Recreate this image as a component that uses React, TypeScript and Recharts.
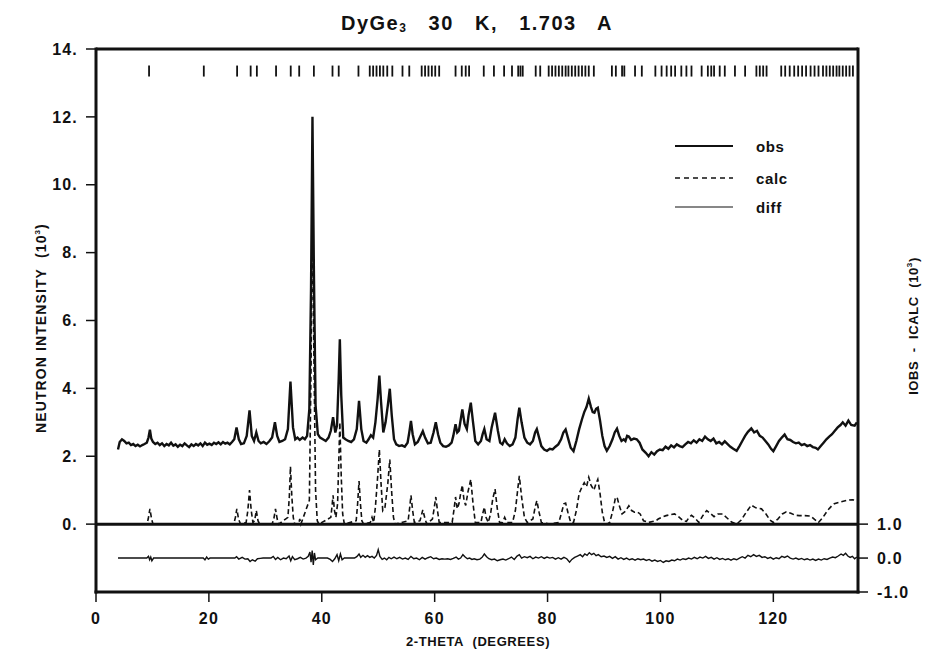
import React from 'react';
import { ComposedChart, Line, Scatter, XAxis, YAxis, ReferenceLine } from 'recharts';

// 2-theta (deg) vs intensity (10^3 counts)
const observed: [number, number][] = [
  [3.9, 2.2], [4.2, 2.42], [4.6, 2.5], [5.0, 2.45], [5.4, 2.38], [5.8, 2.4], [6.2, 2.33], [6.6, 2.36], [7.0, 2.3], [7.4, 2.34],
  [7.8, 2.29], [8.2, 2.33], [8.6, 2.36], [9.0, 2.4], [9.3, 2.55], [9.55, 2.78], [9.8, 2.52], [10.1, 2.42], [10.5, 2.36], [10.9, 2.4],
  [11.3, 2.33], [11.7, 2.38], [12.1, 2.3], [12.5, 2.36], [12.9, 2.32], [13.3, 2.4], [13.7, 2.31], [14.1, 2.35], [14.5, 2.28], [14.9, 2.34],
  [15.3, 2.3], [15.7, 2.38], [16.1, 2.32], [16.5, 2.27], [16.9, 2.35], [17.3, 2.3], [17.7, 2.36], [18.1, 2.32], [18.5, 2.38], [18.9, 2.3],
  [19.3, 2.4], [19.7, 2.34], [20.1, 2.37], [20.5, 2.33], [20.9, 2.4], [21.3, 2.36], [21.7, 2.41], [22.1, 2.35], [22.5, 2.42], [22.9, 2.37],
  [23.3, 2.4], [23.7, 2.35], [24.1, 2.42], [24.5, 2.5], [24.9, 2.85], [25.3, 2.5], [25.7, 2.36], [26.2, 2.38], [26.7, 2.6], [27.2, 3.35],
  [27.6, 2.6], [28.0, 2.45], [28.4, 2.7], [28.8, 2.45], [29.2, 2.38], [29.7, 2.42], [30.2, 2.36], [30.7, 2.44], [31.2, 2.55], [31.7, 3.0],
  [32.1, 2.6], [32.5, 2.42], [33.0, 2.45], [33.5, 2.5], [34.0, 2.8], [34.45, 4.2], [34.9, 2.85], [35.3, 2.5], [35.7, 2.55], [36.1, 2.48],
  [36.6, 2.55], [37.0, 2.5], [37.4, 2.6], [37.8, 3.4], [38.1, 7.0], [38.35, 12.0], [38.6, 7.5], [38.9, 3.5], [39.3, 2.65], [39.7, 2.55],
  [40.2, 2.5], [40.7, 2.45], [41.2, 2.55], [41.6, 2.75], [42.0, 3.15], [42.4, 2.7], [42.7, 2.9], [43.0, 4.3], [43.2, 5.45], [43.45, 3.8],
  [43.8, 2.55], [44.2, 2.5], [44.7, 2.45], [45.2, 2.42], [45.7, 2.5], [46.2, 2.8], [46.6, 3.63], [47.0, 2.8], [47.4, 2.45], [47.9, 2.4],
  [48.3, 2.5], [48.7, 2.62], [49.1, 2.55], [49.5, 3.0], [49.9, 3.7], [50.2, 4.38], [50.5, 3.6], [50.9, 2.7], [51.3, 3.0], [51.7, 3.5],
  [52.05, 3.99], [52.4, 3.2], [52.8, 2.5], [53.2, 2.35], [53.7, 2.3], [54.2, 2.32], [54.7, 2.28], [55.2, 2.4], [55.5, 2.7], [55.8, 3.04],
  [56.1, 2.65], [56.5, 2.35], [57.0, 2.42], [57.5, 2.6], [57.9, 2.74], [58.3, 2.55], [58.8, 2.38], [59.3, 2.4], [59.8, 2.7], [60.2, 3.0],
  [60.6, 2.65], [61.0, 2.4], [61.5, 2.3], [62.0, 2.28], [62.5, 2.32], [63.0, 2.4], [63.3, 2.6], [63.7, 2.94], [64.0, 2.7], [64.3, 2.75],
  [64.9, 3.38], [65.3, 2.95], [65.7, 2.8], [66.0, 3.2], [66.4, 3.58], [66.8, 3.0], [67.2, 2.45], [67.7, 2.35], [68.2, 2.45], [68.5, 2.65],
  [68.8, 2.8], [69.2, 2.5], [69.7, 2.45], [70.1, 2.85], [70.7, 3.28], [71.2, 2.75], [71.6, 2.4], [72.0, 2.35], [72.4, 2.5], [72.8, 2.38],
  [73.3, 2.3], [73.8, 2.35], [74.3, 2.55], [74.7, 3.1], [75.0, 3.43], [75.4, 3.0], [75.9, 2.55], [76.4, 2.4], [76.9, 2.35], [77.4, 2.45],
  [77.8, 2.7], [78.1, 2.8], [78.5, 2.55], [78.9, 2.3], [79.4, 2.2], [79.9, 2.16], [80.4, 2.22], [80.9, 2.2], [81.4, 2.28], [81.9, 2.35],
  [82.4, 2.5], [82.8, 2.7], [83.2, 2.79], [83.6, 2.55], [84.1, 2.25], [84.6, 2.15], [85.1, 2.45], [85.6, 2.8], [86.1, 3.09], [86.5, 3.3],
  [86.9, 3.45], [87.3, 3.7], [87.7, 3.45], [88.0, 3.3], [88.3, 3.28], [88.6, 3.4], [88.9, 3.43], [89.3, 3.05], [89.7, 2.6], [90.1, 2.3],
  [90.5, 2.16], [91.0, 2.3], [91.5, 2.5], [91.9, 2.7], [92.3, 2.81], [92.7, 2.6], [93.1, 2.45], [93.5, 2.5], [93.8, 2.45], [94.1, 2.6],
  [94.4, 2.58], [94.8, 2.48], [95.3, 2.52], [95.8, 2.5], [96.3, 2.4], [96.8, 2.2], [97.4, 2.1], [97.9, 2.0], [98.4, 2.12], [98.9, 2.05],
  [99.4, 2.15], [99.9, 2.2], [100.4, 2.18], [100.9, 2.28], [101.4, 2.22], [101.9, 2.32], [102.4, 2.26], [102.9, 2.35], [103.4, 2.3], [103.9, 2.27],
  [104.4, 2.35], [104.9, 2.42], [105.4, 2.38], [105.9, 2.47], [106.4, 2.4], [106.9, 2.5], [107.4, 2.45], [107.9, 2.58], [108.4, 2.5], [108.9, 2.45],
  [109.4, 2.52], [109.9, 2.38], [110.4, 2.42], [110.9, 2.35], [111.4, 2.44], [111.9, 2.36], [112.4, 2.28], [112.9, 2.22], [113.5, 2.16], [114.0, 2.3],
  [114.5, 2.45], [115.0, 2.6], [115.5, 2.72], [116.1, 2.82], [116.6, 2.7], [117.1, 2.75], [117.6, 2.6], [118.1, 2.55], [118.6, 2.45], [119.1, 2.35],
  [119.6, 2.22], [120.0, 2.15], [120.5, 2.3], [121.0, 2.45], [121.5, 2.55], [122.0, 2.64], [122.5, 2.5], [123.0, 2.48], [123.5, 2.42], [124.0, 2.38],
  [124.5, 2.4], [125.0, 2.33], [125.5, 2.36], [126.0, 2.3], [126.5, 2.33], [127.0, 2.27], [127.5, 2.25], [127.9, 2.2], [128.4, 2.3], [128.9, 2.4],
  [129.4, 2.5], [129.9, 2.58], [130.4, 2.65], [130.9, 2.75], [131.4, 2.85], [131.9, 2.92], [132.3, 3.0], [132.8, 2.9], [133.3, 3.05], [133.8, 2.92],
  [134.4, 2.9], [134.8, 3.0],
];

const calculated: [number, number][] = [
  [3.9, 0], [9.0, 0], [9.25, 0.15], [9.55, 0.45], [9.85, 0.15], [10.1, 0], [24.4, 0], [24.7, 0.2], [24.95, 0.45], [25.25, 0.15],
  [25.6, 0], [26.6, 0.05], [26.9, 0.4], [27.2, 1.0], [27.5, 0.4], [27.8, 0.05], [28.1, 0.1], [28.4, 0.4], [28.7, 0.1], [29.0, 0],
  [31.2, 0], [31.5, 0.15], [31.8, 0.45], [32.1, 0.15], [32.4, 0], [34.0, 0.2], [34.25, 0.8], [34.45, 1.7], [34.7, 0.8], [34.95, 0.2],
  [35.2, 0], [35.9, 0], [36.1, 0.15], [36.3, 0], [37.8, 0.7], [38.1, 4.6], [38.35, 9.6], [38.6, 5.0], [38.9, 1.0], [39.2, 0.1],
  [39.5, 0], [41.6, 0.2], [41.8, 0.5], [42.0, 0.85], [42.25, 0.4], [42.5, 0.2], [42.8, 0.6], [43.0, 1.8], [43.2, 3.0], [43.45, 1.4],
  [43.7, 0.3], [44.0, 0], [46.1, 0.1], [46.35, 0.6], [46.6, 1.27], [46.85, 0.6], [47.1, 0.1], [47.4, 0], [48.6, 0.05], [48.9, 0.2],
  [49.2, 0.05], [49.5, 0.5], [49.9, 1.4], [50.2, 2.2], [50.5, 1.2], [50.8, 0.4], [51.2, 0.5], [51.7, 1.2], [52.05, 1.9], [52.4, 0.9],
  [52.7, 0.2], [53.0, 0], [55.3, 0.1], [55.55, 0.45], [55.8, 0.85], [56.1, 0.4], [56.4, 0.05], [57.4, 0.1], [57.9, 0.42], [58.3, 0.15],
  [58.6, 0], [59.6, 0.15], [59.9, 0.45], [60.2, 0.8], [60.5, 0.4], [60.8, 0.05], [63.1, 0.05], [63.4, 0.4], [63.7, 0.8], [64.0, 0.45],
  [64.3, 0.6], [64.6, 0.9], [64.9, 1.15], [65.2, 0.7], [65.5, 0.55], [65.9, 0.95], [66.4, 1.32], [66.8, 0.6], [67.2, 0.05], [68.2, 0.05],
  [68.5, 0.3], [68.8, 0.5], [69.1, 0.2], [69.5, 0.05], [69.9, 0.3], [70.3, 0.75], [70.7, 1.03], [71.1, 0.45], [71.5, 0.05], [72.0, 0.05],
  [72.4, 0.2], [72.8, 0.05], [73.8, 0.05], [74.3, 0.4], [74.7, 1.0], [75.0, 1.42], [75.4, 0.8], [75.9, 0.2], [76.4, 0.05], [77.4, 0.15],
  [77.8, 0.5], [78.1, 0.69], [78.5, 0.35], [78.9, 0.05], [80.4, 0], [82.0, 0.05], [82.5, 0.35], [82.9, 0.6], [83.2, 0.62], [83.6, 0.35],
  [84.1, 0.05], [84.6, 0.05], [85.1, 0.4], [85.6, 0.9], [86.1, 1.1], [86.5, 1.22], [86.9, 1.1], [87.3, 1.38], [87.7, 1.15], [88.2, 1.0],
  [88.6, 1.2], [88.9, 1.32], [89.3, 0.9], [89.7, 0.35], [90.1, 0.05], [90.5, 0], [91.0, 0.05], [91.5, 0.35], [92.0, 0.75], [92.3, 0.8],
  [92.7, 0.55], [93.2, 0.3], [93.8, 0.38], [94.4, 0.54], [94.9, 0.4], [95.4, 0.35], [95.9, 0.36], [96.4, 0.3], [97.0, 0.1], [97.9, 0.05],
  [98.6, 0.08], [99.2, 0.1], [99.6, 0.15], [100.2, 0.2], [101.0, 0.25], [101.8, 0.28], [102.5, 0.3], [103.2, 0.22], [104.0, 0.1], [104.6, 0.08],
  [105.0, 0.18], [105.5, 0.26], [106.1, 0.18], [106.8, 0.05], [107.5, 0.25], [108.2, 0.4], [108.8, 0.32], [109.5, 0.22], [110.2, 0.3], [111.0, 0.3],
  [111.8, 0.18], [112.6, 0.06], [113.5, 0.0], [114.3, 0.12], [115.2, 0.35], [116.1, 0.56], [116.9, 0.48], [117.9, 0.45], [118.7, 0.3], [119.4, 0.12],
  [120.0, 0.05], [120.8, 0.15], [121.6, 0.3], [122.3, 0.36], [123.1, 0.32], [123.9, 0.26], [124.6, 0.25], [125.6, 0.25], [126.6, 0.24], [127.3, 0.14],
  [128.0, 0.05], [128.8, 0.2], [129.6, 0.4], [130.4, 0.55], [130.8, 0.6], [131.8, 0.65], [133.0, 0.7], [134.0, 0.72], [134.8, 0.7],
];

const difference: [number, number][] = [
  [3.9, 0], [9.0, 0], [9.3, 0.05], [9.5, -0.05], [9.7, 0.03], [9.9, -0.08], [10.2, 0], [19.0, 0], [19.3, -0.05], [19.6, 0.03],
  [19.9, -0.03], [20.2, 0], [24.6, 0], [24.9, 0.04], [25.3, -0.03], [25.9, 0.02], [26.4, -0.03], [26.9, -0.02], [27.3, -0.1], [27.7, -0.05],
  [28.2, -0.09], [28.6, -0.02], [29.1, -0.01], [29.6, 0], [31.0, 0], [31.4, 0.05], [31.8, -0.04], [32.2, 0.02], [32.7, -0.05], [33.2, 0.0],
  [33.7, -0.02], [34.2, 0.06], [34.5, -0.08], [34.8, 0.04], [35.2, -0.05], [35.7, -0.02], [36.2, 0.02], [36.7, -0.03], [37.2, 0.0], [37.6, 0.05],
  [37.9, 0.18], [38.1, -0.12], [38.3, 0.22], [38.5, -0.2], [38.7, 0.15], [38.9, -0.05], [39.3, 0.0], [41.0, 0], [41.5, -0.04], [41.9, -0.1],
  [42.3, -0.02], [42.7, 0.1], [43.0, -0.08], [43.3, 0.12], [43.6, -0.05], [44.0, 0.0], [45.8, 0], [46.2, 0.04], [46.6, 0.12], [46.9, 0.02],
  [47.3, 0.08], [47.7, 0.02], [48.1, 0.07], [48.5, 0.02], [48.9, 0.05], [49.3, 0.0], [49.7, 0.08], [50.0, 0.25], [50.3, 0.05], [50.7, -0.04],
  [51.1, 0.0], [51.5, -0.05], [51.9, 0.02], [52.3, -0.02], [52.8, 0.03], [53.3, -0.02], [53.8, 0.02], [54.3, -0.03], [54.8, 0.0], [55.3, -0.04],
  [55.8, 0.05], [56.3, -0.02], [56.8, 0.0], [57.3, -0.05], [57.8, 0.02], [58.3, -0.03], [58.8, 0.01], [59.3, 0.04], [59.8, -0.02], [60.3, 0.0],
  [60.8, -0.04], [61.3, -0.02], [61.8, -0.03], [62.3, -0.02], [62.8, -0.04], [63.3, -0.01], [63.8, 0.03], [64.2, -0.03], [64.6, 0.0], [65.0, 0.1],
  [65.4, 0.03], [65.8, -0.02], [66.2, 0.0], [66.6, -0.04], [67.0, -0.02], [67.5, -0.05], [68.0, -0.03], [68.4, 0.02], [68.8, 0.12], [69.2, 0.04],
  [69.6, -0.02], [70.1, -0.05], [70.6, -0.03], [71.1, -0.08], [71.6, -0.05], [72.1, -0.03], [72.6, -0.06], [73.1, -0.02], [73.6, 0.03], [74.1, -0.04],
  [74.6, 0.06], [75.0, 0.1], [75.4, 0.0], [75.9, 0.04], [76.4, 0.01], [76.9, 0.05], [77.4, -0.02], [77.9, 0.03], [78.4, 0.0], [78.9, 0.04],
  [79.4, -0.01], [79.9, 0.03], [80.4, 0.0], [80.9, 0.02], [81.4, -0.03], [81.9, 0.01], [82.4, -0.03], [82.9, 0.02], [83.4, -0.02], [83.9, -0.12],
  [84.3, -0.04], [84.8, 0.02], [85.3, 0.06], [85.8, 0.1], [86.2, 0.04], [86.6, 0.12], [87.0, 0.08], [87.4, 0.16], [87.8, 0.1], [88.2, 0.14],
  [88.6, 0.07], [89.0, 0.1], [89.5, 0.04], [90.0, 0.06], [90.5, 0.02], [91.0, 0.05], [91.5, -0.01], [92.0, 0.04], [92.5, -0.03], [93.0, 0.01],
  [93.5, -0.04], [94.0, 0.0], [94.5, -0.05], [95.0, -0.02], [95.5, -0.06], [96.0, -0.02], [96.5, -0.05], [97.0, -0.03], [97.5, -0.07], [98.0, -0.04],
  [98.5, -0.09], [99.0, -0.06], [99.5, -0.1], [100.0, -0.07], [100.5, -0.13], [101.0, -0.08], [101.5, -0.1], [102.0, -0.06], [102.5, -0.08], [103.0, -0.03],
  [103.5, -0.06], [104.0, -0.02], [104.5, -0.04], [105.0, 0.0], [105.5, -0.03], [106.0, 0.02], [106.5, -0.02], [107.0, 0.03], [107.5, 0.0], [108.0, 0.05],
  [108.5, -0.01], [109.0, 0.02], [109.5, -0.03], [110.0, 0.01], [110.5, -0.04], [111.0, -0.01], [111.5, -0.05], [112.0, -0.02], [112.5, -0.06], [113.0, -0.02],
  [113.5, -0.05], [114.0, 0.0], [114.5, 0.04], [115.0, 0.0], [115.5, 0.08], [116.0, 0.04], [116.5, 0.1], [117.0, 0.05], [117.5, 0.08], [118.0, 0.02],
  [118.5, 0.04], [119.0, -0.01], [119.5, 0.02], [120.0, -0.03], [120.5, 0.01], [121.0, -0.02], [121.5, 0.05], [122.0, 0.02], [122.5, 0.06], [123.0, 0.0],
  [123.5, -0.03], [124.0, 0.0], [124.5, -0.04], [125.0, -0.01], [125.5, -0.05], [126.0, -0.02], [126.5, -0.06], [127.0, -0.03], [127.5, -0.07], [128.0, -0.03],
  [128.5, -0.06], [129.0, -0.02], [129.5, -0.04], [130.0, 0.0], [130.5, 0.03], [131.0, 0.01], [131.5, 0.06], [132.0, 0.12], [132.4, 0.08], [132.8, 0.14],
  [133.2, 0.06], [133.6, 0.02], [134.0, 0.05], [134.4, -0.02], [134.8, 0.03],
];

// Bragg reflection positions (2-theta)
const reflections = [
  9.4, 19.1, 25.0, 27.4, 28.5, 31.9, 34.5, 36.0, 38.6, 41.9, 43.0, 46.5, 48.5, 49.1, 49.7, 50.3, 50.9, 51.6, 52.5, 54.3,
  55.5, 57.7, 58.3, 58.9, 59.5, 60.1, 60.8, 63.7, 64.8, 65.5, 66.1, 68.7, 70.5, 72.3, 73.7, 74.8, 75.2, 75.6, 77.9, 78.7,
  80.2, 80.8, 81.4, 82.0, 82.6, 83.2, 83.7, 84.3, 84.9, 85.5, 86.1, 86.7, 87.3, 88.2, 91.4, 92.1, 93.2, 93.6, 95.5, 96.7,
  99.1, 100.2, 101.1, 101.9, 102.6, 103.7, 104.6, 105.5, 107.3, 108.4, 109.0, 109.5, 110.5, 111.4, 113.2, 115.0, 117.0, 117.6, 118.2, 118.8,
  121.4, 122.1, 122.9, 123.7, 124.4, 125.1, 125.8, 126.6, 127.3, 128.0, 128.8, 129.4, 130.0, 130.6, 131.2, 131.7, 132.3, 132.9, 133.5, 134.1,
];
const reflectionRow = 13.35;

const xTicks = [0, 20, 40, 60, 80, 100, 120];
const intensityTicks = [0, 2, 4, 6, 8, 10, 12, 14];
const diffTicks = [-1, 0, 1];

const ink = '#111';
const font = "'Liberation Sans', Arial, Helvetica, sans-serif";
const tickStyle = { fill: ink, fontSize: 16, fontWeight: 700, fontFamily: font, letterSpacing: 1.2 };
const axisLine = { stroke: ink, strokeWidth: 3, strokeLinecap: 'square' as const };
const tickLine = { stroke: ink, strokeWidth: 1.5 };

const rows = (pts: [number, number][]) => pts.map(([t, v]) => ({ t, v }));
const reflectionRows = reflections.map((t) => ({ t, y: reflectionRow }));

const ReflectionMark = (props: any) => (
  <line x1={props.cx} x2={props.cx} y1={props.cy - 5.5} y2={props.cy + 5.5} stroke={ink} strokeWidth={1.8} />
);

const labelBase: React.CSSProperties = {
  position: 'absolute', fontFamily: font, fontWeight: 700, color: ink, whiteSpace: 'nowrap', letterSpacing: 0.6,
};

export default function App() {
  return (
    <div style={{ position: 'fixed', left: 0, top: 0, width: 951, height: 654, background: '#fff' }}>
      <ComposedChart width={951} height={654} margin={{ top: 49, right: 0, bottom: 0, left: 0 }}>
        <XAxis type="number" dataKey="t" domain={[0, 135]} ticks={xTicks} allowDataOverflow height={62}
          axisLine={axisLine} tickLine={tickLine} tickSize={10} tickMargin={11} tick={tickStyle} />
        <YAxis yAxisId="left" type="number" domain={[-2, 14]} ticks={intensityTicks} allowDataOverflow width={96}
          axisLine={axisLine} tickLine={tickLine} tickSize={10} tickMargin={8} tick={tickStyle}
          tickFormatter={(v: number) => `${v}.`} />
        <YAxis yAxisId="right" orientation="right" type="number" domain={[-1, 15]} ticks={diffTicks} allowDataOverflow width={93}
          axisLine={axisLine} tickLine={tickLine} tickSize={10} tickMargin={9} tick={tickStyle}
          tickFormatter={(v: number) => v.toFixed(1)} />
        <ReferenceLine yAxisId="left" y={14} stroke={ink} strokeWidth={3} />
        <ReferenceLine yAxisId="left" y={0} stroke={ink} strokeWidth={3} />
        <Line yAxisId="left" data={rows(calculated)} dataKey="v" type="linear" stroke={ink} strokeWidth={1.6}
          strokeDasharray="5 3" dot={false} activeDot={false} isAnimationActive={false} />
        <Line yAxisId="left" data={rows(observed)} dataKey="v" type="linear" stroke={ink} strokeWidth={2.4}
          dot={false} activeDot={false} isAnimationActive={false} />
        <Line yAxisId="right" data={rows(difference)} dataKey="v" type="linear" stroke={ink} strokeWidth={1.4}
          dot={false} activeDot={false} isAnimationActive={false} />
        <Scatter yAxisId="left" data={reflectionRows} dataKey="y" shape={ReflectionMark} isAnimationActive={false} />
      </ComposedChart>

      <div style={{ ...labelBase, left: 477, top: 23, fontSize: 20, transform: 'translate(-50%, -50%)', letterSpacing: 1.5 }}>
        DyGe<sub style={{ fontSize: 12, verticalAlign: -2 }}>3</sub>&nbsp;&nbsp; 30&nbsp;&nbsp; K,&nbsp;&nbsp; 1.703&nbsp;&nbsp; A
      </div>
      <div style={{ ...labelBase, left: 41, top: 328, fontSize: 14, letterSpacing: 1.1, transform: 'translate(-50%, -50%) rotate(-90deg)' }}>
        NEUTRON INTENSITY&nbsp; (10<sup style={{ fontSize: 8 }}>3</sup>)
      </div>
      <div style={{ ...labelBase, left: 913, top: 326, fontSize: 13, transform: 'translate(-50%, -50%) rotate(-90deg)' }}>
        IOBS&nbsp; -&nbsp; ICALC&nbsp; (10<sup style={{ fontSize: 8 }}>3</sup>)
      </div>
      <div style={{ ...labelBase, left: 478, top: 641, fontSize: 13, transform: 'translate(-50%, -50%)' }}>
        2-THETA&nbsp; (DEGREES)
      </div>

      <svg style={{ position: 'absolute', left: 670, top: 135 }} width={70} height={85}>
        <line x1={5} x2={63} y1={11} y2={11} stroke={ink} strokeWidth={2} />
        <line x1={5} x2={63} y1={43} y2={43} stroke={ink} strokeWidth={1.5} strokeDasharray="5 4" />
        <line x1={5} x2={63} y1={72} y2={72} stroke={ink} strokeWidth={1.2} />
      </svg>
      {['obs', 'calc', 'diff'].map((name, i) => (
        <div key={name} style={{ ...labelBase, left: 756, top: [146, 178, 207][i], fontSize: 15, transform: 'translateY(-50%)' }}>
          {name}
        </div>
      ))}
    </div>
  );
}
